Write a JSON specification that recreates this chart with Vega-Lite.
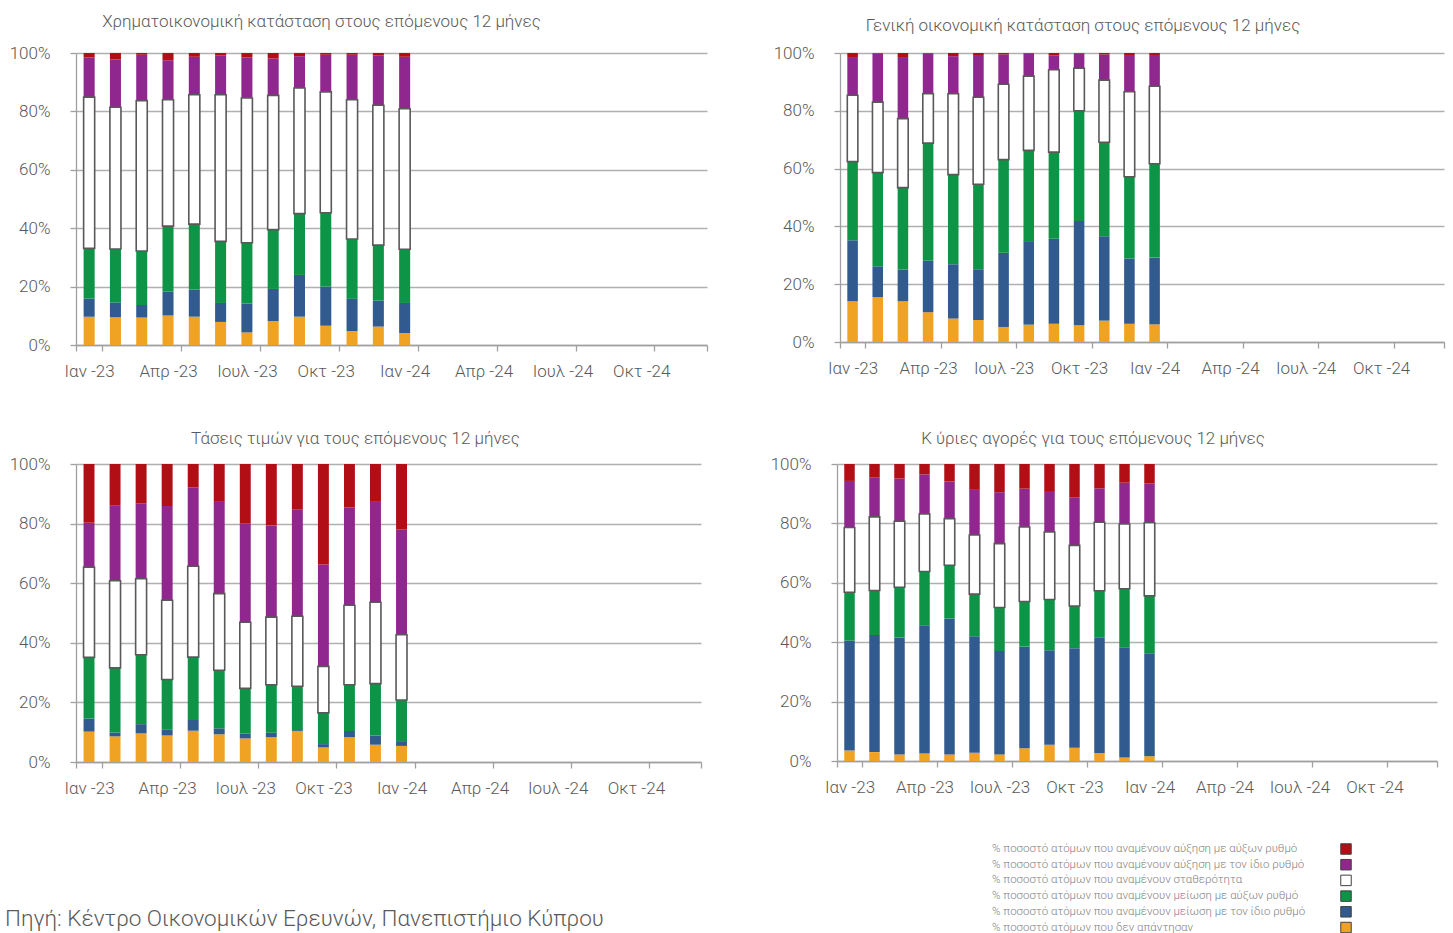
{
  "$schema": "https://vega.github.io/schema/vega-lite/v6.json",
  "padding": {"left": 5, "top": 13, "right": 5, "bottom": 0},
  "background": "white",
  "datasets": {
    "survey": [
      {"panel": "p1", "month": "Ιαν -23", "a_no_answer": 9.7, "b_decrease_same": 6.2, "c_decrease_faster": 17.2, "d_stable": 51.8, "e_increase_same": 13.6, "f_increase_faster": 1.5},
      {"panel": "p1", "month": "Φεβ -23", "a_no_answer": 9.5, "b_decrease_same": 5.1, "c_decrease_faster": 18.3, "d_stable": 48.5, "e_increase_same": 16.4, "f_increase_faster": 2.2},
      {"panel": "p1", "month": "Μαρ -23", "a_no_answer": 9.4, "b_decrease_same": 4.3, "c_decrease_faster": 18.5, "d_stable": 51.5, "e_increase_same": 15.7, "f_increase_faster": 0.6},
      {"panel": "p1", "month": "Απρ -23", "a_no_answer": 10.1, "b_decrease_same": 8.2, "c_decrease_faster": 22.4, "d_stable": 43.3, "e_increase_same": 13.5, "f_increase_faster": 2.5},
      {"panel": "p1", "month": "Μαϊ -23", "a_no_answer": 9.7, "b_decrease_same": 9.3, "c_decrease_faster": 22.4, "d_stable": 44.3, "e_increase_same": 13.0, "f_increase_faster": 1.3},
      {"panel": "p1", "month": "Ιουν -23", "a_no_answer": 7.9, "b_decrease_same": 6.5, "c_decrease_faster": 21.1, "d_stable": 50.2, "e_increase_same": 13.4, "f_increase_faster": 0.9},
      {"panel": "p1", "month": "Ιουλ -23", "a_no_answer": 4.3, "b_decrease_same": 9.9, "c_decrease_faster": 20.8, "d_stable": 49.6, "e_increase_same": 13.9, "f_increase_faster": 1.5},
      {"panel": "p1", "month": "Αυγ -23", "a_no_answer": 8.2, "b_decrease_same": 11.0, "c_decrease_faster": 20.3, "d_stable": 46.0, "e_increase_same": 12.6, "f_increase_faster": 1.9},
      {"panel": "p1", "month": "Σεπ -23", "a_no_answer": 9.7, "b_decrease_same": 14.3, "c_decrease_faster": 21.0, "d_stable": 43.0, "e_increase_same": 10.9, "f_increase_faster": 1.1},
      {"panel": "p1", "month": "Οκτ -23", "a_no_answer": 6.6, "b_decrease_same": 13.4, "c_decrease_faster": 25.3, "d_stable": 41.4, "e_increase_same": 12.7, "f_increase_faster": 0.6},
      {"panel": "p1", "month": "Νοε -23", "a_no_answer": 4.8, "b_decrease_same": 11.0, "c_decrease_faster": 20.5, "d_stable": 47.7, "e_increase_same": 15.4, "f_increase_faster": 0.6},
      {"panel": "p1", "month": "Δεκ -23", "a_no_answer": 6.3, "b_decrease_same": 8.9, "c_decrease_faster": 19.0, "d_stable": 47.9, "e_increase_same": 17.0, "f_increase_faster": 0.9},
      {"panel": "p1", "month": "Ιαν -24", "a_no_answer": 4.1, "b_decrease_same": 10.3, "c_decrease_faster": 18.4, "d_stable": 48.1, "e_increase_same": 17.8, "f_increase_faster": 1.3},

      {"panel": "p2", "month": "Ιαν -23", "a_no_answer": 14.1, "b_decrease_same": 21.1, "c_decrease_faster": 27.2, "d_stable": 23.0, "e_increase_same": 13.2, "f_increase_faster": 1.4},
      {"panel": "p2", "month": "Φεβ -23", "a_no_answer": 15.5, "b_decrease_same": 10.7, "c_decrease_faster": 32.4, "d_stable": 24.4, "e_increase_same": 16.8, "f_increase_faster": 0.2},
      {"panel": "p2", "month": "Μαρ -23", "a_no_answer": 14.1, "b_decrease_same": 11.0, "c_decrease_faster": 28.3, "d_stable": 23.9, "e_increase_same": 21.3, "f_increase_faster": 1.4},
      {"panel": "p2", "month": "Απρ -23", "a_no_answer": 10.3, "b_decrease_same": 17.8, "c_decrease_faster": 40.7, "d_stable": 17.1, "e_increase_same": 13.9, "f_increase_faster": 0.2},
      {"panel": "p2", "month": "Μαϊ -23", "a_no_answer": 8.1, "b_decrease_same": 18.8, "c_decrease_faster": 31.0, "d_stable": 28.0, "e_increase_same": 13.0, "f_increase_faster": 1.1},
      {"panel": "p2", "month": "Ιουν -23", "a_no_answer": 7.6, "b_decrease_same": 17.6, "c_decrease_faster": 29.4, "d_stable": 30.1, "e_increase_same": 14.6, "f_increase_faster": 0.7},
      {"panel": "p2", "month": "Ιουλ -23", "a_no_answer": 5.2, "b_decrease_same": 25.7, "c_decrease_faster": 32.2, "d_stable": 26.1, "e_increase_same": 10.3, "f_increase_faster": 0.5},
      {"panel": "p2", "month": "Αυγ -23", "a_no_answer": 6.0, "b_decrease_same": 28.9, "c_decrease_faster": 31.4, "d_stable": 25.7, "e_increase_same": 7.8, "f_increase_faster": 0.2},
      {"panel": "p2", "month": "Σεπ -23", "a_no_answer": 6.3, "b_decrease_same": 29.4, "c_decrease_faster": 30.0, "d_stable": 28.5, "e_increase_same": 5.0, "f_increase_faster": 0.8},
      {"panel": "p2", "month": "Οκτ -23", "a_no_answer": 5.8, "b_decrease_same": 36.1, "c_decrease_faster": 38.1, "d_stable": 14.7, "e_increase_same": 5.1, "f_increase_faster": 0.2},
      {"panel": "p2", "month": "Νοε -23", "a_no_answer": 7.4, "b_decrease_same": 29.2, "c_decrease_faster": 32.5, "d_stable": 21.5, "e_increase_same": 8.9, "f_increase_faster": 0.5},
      {"panel": "p2", "month": "Δεκ -23", "a_no_answer": 6.3, "b_decrease_same": 22.6, "c_decrease_faster": 28.3, "d_stable": 29.4, "e_increase_same": 12.7, "f_increase_faster": 0.7},
      {"panel": "p2", "month": "Ιαν -24", "a_no_answer": 6.1, "b_decrease_same": 23.1, "c_decrease_faster": 32.5, "d_stable": 26.8, "e_increase_same": 10.8, "f_increase_faster": 0.7},

      {"panel": "p3", "month": "Ιαν -23", "a_no_answer": 10.2, "b_decrease_same": 4.4, "c_decrease_faster": 20.5, "d_stable": 30.3, "e_increase_same": 14.9, "f_increase_faster": 19.7},
      {"panel": "p3", "month": "Φεβ -23", "a_no_answer": 8.6, "b_decrease_same": 1.3, "c_decrease_faster": 21.7, "d_stable": 29.2, "e_increase_same": 25.2, "f_increase_faster": 14.0},
      {"panel": "p3", "month": "Μαρ -23", "a_no_answer": 9.6, "b_decrease_same": 3.1, "c_decrease_faster": 23.3, "d_stable": 25.5, "e_increase_same": 25.2, "f_increase_faster": 13.3},
      {"panel": "p3", "month": "Απρ -23", "a_no_answer": 8.9, "b_decrease_same": 1.9, "c_decrease_faster": 16.9, "d_stable": 26.6, "e_increase_same": 31.6, "f_increase_faster": 14.1},
      {"panel": "p3", "month": "Μαϊ -23", "a_no_answer": 10.5, "b_decrease_same": 3.6, "c_decrease_faster": 21.1, "d_stable": 30.5, "e_increase_same": 26.4, "f_increase_faster": 7.9},
      {"panel": "p3", "month": "Ιουν -23", "a_no_answer": 9.3, "b_decrease_same": 2.0, "c_decrease_faster": 19.5, "d_stable": 25.7, "e_increase_same": 30.8, "f_increase_faster": 12.7},
      {"panel": "p3", "month": "Ιουλ -23", "a_no_answer": 7.9, "b_decrease_same": 1.6, "c_decrease_faster": 15.2, "d_stable": 22.2, "e_increase_same": 33.1, "f_increase_faster": 20.0},
      {"panel": "p3", "month": "Αυγ -23", "a_no_answer": 8.3, "b_decrease_same": 1.5, "c_decrease_faster": 16.1, "d_stable": 22.7, "e_increase_same": 30.8, "f_increase_faster": 20.6},
      {"panel": "p3", "month": "Σεπ -23", "a_no_answer": 10.4, "b_decrease_same": 0.3, "c_decrease_faster": 14.7, "d_stable": 23.5, "e_increase_same": 35.8, "f_increase_faster": 15.3},
      {"panel": "p3", "month": "Οκτ -23", "a_no_answer": 4.9, "b_decrease_same": 1.1, "c_decrease_faster": 10.5, "d_stable": 15.6, "e_increase_same": 34.2, "f_increase_faster": 33.7},
      {"panel": "p3", "month": "Νοε -23", "a_no_answer": 8.3, "b_decrease_same": 2.1, "c_decrease_faster": 15.5, "d_stable": 26.7, "e_increase_same": 32.8, "f_increase_faster": 14.6},
      {"panel": "p3", "month": "Δεκ -23", "a_no_answer": 5.8, "b_decrease_same": 3.1, "c_decrease_faster": 17.4, "d_stable": 27.3, "e_increase_same": 33.7, "f_increase_faster": 12.7},
      {"panel": "p3", "month": "Ιαν -24", "a_no_answer": 5.4, "b_decrease_same": 1.6, "c_decrease_faster": 13.8, "d_stable": 21.9, "e_increase_same": 35.3, "f_increase_faster": 22.0},

      {"panel": "p4", "month": "Ιαν -23", "a_no_answer": 3.5, "b_decrease_same": 37.0, "c_decrease_faster": 16.3, "d_stable": 21.8, "e_increase_same": 15.7, "f_increase_faster": 5.7},
      {"panel": "p4", "month": "Φεβ -23", "a_no_answer": 3.0, "b_decrease_same": 39.4, "c_decrease_faster": 15.0, "d_stable": 24.8, "e_increase_same": 13.2, "f_increase_faster": 4.6},
      {"panel": "p4", "month": "Μαρ -23", "a_no_answer": 2.2, "b_decrease_same": 39.4, "c_decrease_faster": 16.9, "d_stable": 22.2, "e_increase_same": 14.4, "f_increase_faster": 4.9},
      {"panel": "p4", "month": "Απρ -23", "a_no_answer": 2.5, "b_decrease_same": 43.2, "c_decrease_faster": 18.1, "d_stable": 19.4, "e_increase_same": 13.3, "f_increase_faster": 3.5},
      {"panel": "p4", "month": "Μαϊ -23", "a_no_answer": 2.2, "b_decrease_same": 45.8, "c_decrease_faster": 17.9, "d_stable": 15.7, "e_increase_same": 12.5, "f_increase_faster": 5.9},
      {"panel": "p4", "month": "Ιουν -23", "a_no_answer": 2.8, "b_decrease_same": 39.2, "c_decrease_faster": 14.2, "d_stable": 19.9, "e_increase_same": 15.2, "f_increase_faster": 8.7},
      {"panel": "p4", "month": "Ιουλ -23", "a_no_answer": 2.2, "b_decrease_same": 34.8, "c_decrease_faster": 14.7, "d_stable": 21.5, "e_increase_same": 17.3, "f_increase_faster": 9.5},
      {"panel": "p4", "month": "Αυγ -23", "a_no_answer": 4.3, "b_decrease_same": 34.2, "c_decrease_faster": 15.2, "d_stable": 25.1, "e_increase_same": 12.9, "f_increase_faster": 8.3},
      {"panel": "p4", "month": "Σεπ -23", "a_no_answer": 5.5, "b_decrease_same": 31.8, "c_decrease_faster": 17.1, "d_stable": 22.7, "e_increase_same": 13.5, "f_increase_faster": 9.4},
      {"panel": "p4", "month": "Οκτ -23", "a_no_answer": 4.5, "b_decrease_same": 33.5, "c_decrease_faster": 14.2, "d_stable": 20.4, "e_increase_same": 16.2, "f_increase_faster": 11.2},
      {"panel": "p4", "month": "Νοε -23", "a_no_answer": 2.7, "b_decrease_same": 39.0, "c_decrease_faster": 15.6, "d_stable": 23.1, "e_increase_same": 11.4, "f_increase_faster": 8.2},
      {"panel": "p4", "month": "Δεκ -23", "a_no_answer": 1.2, "b_decrease_same": 37.1, "c_decrease_faster": 19.7, "d_stable": 21.8, "e_increase_same": 13.9, "f_increase_faster": 6.3},
      {"panel": "p4", "month": "Ιαν -24", "a_no_answer": 1.6, "b_decrease_same": 34.7, "c_decrease_faster": 19.3, "d_stable": 24.6, "e_increase_same": 13.2, "f_increase_faster": 6.6}
    ]
  },
  "data": {"name": "survey"},
  "spacing": 51,
  "vconcat": [
    {
      "spacing": 61,
      "hconcat": [
        {
          "width": 631, "height": 292,
          "title": {"text": "Χρηματοικονομική κατάσταση στους επόμενους 12 μήνες", "dx": -70, "offset": 13},
          "transform": [{"filter": "datum.panel === 'p1'"}, {"fold": ["a_no_answer", "b_decrease_same", "c_decrease_faster", "d_stable", "e_increase_same", "f_increase_faster"], "as": ["cat", "value"]}],
          "encoding": {
            "x": {"field": "month", "type": "ordinal", "scale": {"domain": ["Ιαν -23","Φεβ -23","Μαρ -23","Απρ -23","Μαϊ -23","Ιουν -23","Ιουλ -23","Αυγ -23","Σεπ -23","Οκτ -23","Νοε -23","Δεκ -23","Ιαν -24","Φεβ -24","Μαρ -24","Απρ -24","Μαϊ -24","Ιουν -24","Ιουλ -24","Αυγ -24","Σεπ -24","Οκτ -24","Νοε -24","Δεκ -24"], "paddingInner": 0, "paddingOuter": 0},
              "axis": {"title": null, "values": ["Ιαν -23","Απρ -23","Ιουλ -23","Οκτ -23","Ιαν -24","Απρ -24","Ιουλ -24","Οκτ -24","Δεκ -24"], "labelExpr": "datum.value === 'Δεκ -24' ? '' : datum.value", "tickBand": "extent", "labelAngle": 0}},
            "y": {"field": "value", "type": "quantitative", "stack": "normalize", "scale": {"domain": [0, 1]}, "axis": {"title": null, "values": [0, 0.2, 0.4, 0.6, 0.8, 1], "format": ".0%"}},
            "order": {"field": "cat", "sort": "ascending"}
          },
          "layer": [
            {
              "mark": {"type": "bar", "width": {"band": 0.42}},
              "encoding": {
                "color": {"field": "cat", "type": "nominal", "scale": {"domain": ["f_increase_faster", "e_increase_same", "d_stable", "c_decrease_faster", "b_decrease_same", "a_no_answer"], "range": ["#B10F15", "#8F278E", "#FFFFFF", "#0D9446", "#315B8F", "#F0A323"]},
                  "legend": {"orient": "none", "legendX": 1264, "legendY": 790, "title": null, "symbolType": "square", "symbolSize": 110, "symbolStrokeColor": "#404040", "symbolStrokeWidth": 1, "labelFontSize": 11.5, "labelColor": "#7f7f7f", "labelOffset": -360, "rowPadding": -0.3, "labelLimit": 500,
                    "labelExpr": "({'f_increase_faster': '% ποσοστό ατόμων που αναμένουν αύξηση με αύξων ρυθμό', 'e_increase_same': '% ποσοστό ατόμων που αναμένουν αύξηση με τον ίδιο ρυθμό', 'd_stable': '% ποσοστό ατόμων που αναμένουν σταθερότητα', 'c_decrease_faster': '% ποσοστό ατόμων που αναμένουν μείωση με αύξων ρυθμό', 'b_decrease_same': '% ποσοστό ατόμων που αναμένουν μείωση με τον ίδιο ρυθμό', 'a_no_answer': '% ποσοστό ατόμων που δεν απάντησαν'})[datum.value]"}}
              }
            },
            {
              "mark": {"type": "bar", "width": {"band": 0.42}, "fill": "transparent", "strokeWidth": 1.6},
              "encoding": {
                "detail": {"field": "cat"},
                "stroke": {"condition": {"test": "datum.cat === 'd_stable'", "value": "#595959"}, "value": "transparent"}
              }
            }
          ]
        },
        {
          "width": 604, "height": 289,
          "title": {"text": "Γενική οικονομική κατάσταση στους επόμενους 12 μήνες", "dx": -59, "offset": 9},
          "transform": [{"filter": "datum.panel === 'p2'"}, {"fold": ["a_no_answer", "b_decrease_same", "c_decrease_faster", "d_stable", "e_increase_same", "f_increase_faster"], "as": ["cat", "value"]}],
          "encoding": {
            "x": {"field": "month", "type": "ordinal", "scale": {"domain": ["Ιαν -23","Φεβ -23","Μαρ -23","Απρ -23","Μαϊ -23","Ιουν -23","Ιουλ -23","Αυγ -23","Σεπ -23","Οκτ -23","Νοε -23","Δεκ -23","Ιαν -24","Φεβ -24","Μαρ -24","Απρ -24","Μαϊ -24","Ιουν -24","Ιουλ -24","Αυγ -24","Σεπ -24","Οκτ -24","Νοε -24","Δεκ -24"], "paddingInner": 0, "paddingOuter": 0},
              "axis": {"title": null, "values": ["Ιαν -23","Απρ -23","Ιουλ -23","Οκτ -23","Ιαν -24","Απρ -24","Ιουλ -24","Οκτ -24","Δεκ -24"], "labelExpr": "datum.value === 'Δεκ -24' ? '' : datum.value", "tickBand": "extent", "labelAngle": 0}},
            "y": {"field": "value", "type": "quantitative", "stack": "normalize", "scale": {"domain": [0, 1]}, "axis": {"title": null, "values": [0, 0.2, 0.4, 0.6, 0.8, 1], "format": ".0%"}},
            "order": {"field": "cat", "sort": "ascending"}
          },
          "layer": [
            {"mark": {"type": "bar", "width": {"band": 0.42}}, "encoding": {"color": {"field": "cat", "type": "nominal"}}},
            {"mark": {"type": "bar", "width": {"band": 0.42}, "fill": "transparent", "strokeWidth": 1.6}, "encoding": {"detail": {"field": "cat"}, "stroke": {"condition": {"test": "datum.cat === 'd_stable'", "value": "#595959"}, "value": "transparent"}}}
          ]
        }
      ]
    },
    {
      "spacing": 64,
      "title": {"text": "Πηγή: Κέντρο Οικονομικών Ερευνών, Πανεπιστήμιο Κύπρου", "orient": "bottom", "anchor": "start", "fontSize": 22.5, "fontWeight": 300, "color": "#595959", "offset": 112},
      "hconcat": [
        {
          "width": 625, "height": 298,
          "title": {"text": "Τάσεις τιμών για τους επόμενους 12 μήνες", "dx": -33, "offset": 7},
          "transform": [{"filter": "datum.panel === 'p3'"}, {"fold": ["a_no_answer", "b_decrease_same", "c_decrease_faster", "d_stable", "e_increase_same", "f_increase_faster"], "as": ["cat", "value"]}],
          "encoding": {
            "x": {"field": "month", "type": "ordinal", "scale": {"domain": ["Ιαν -23","Φεβ -23","Μαρ -23","Απρ -23","Μαϊ -23","Ιουν -23","Ιουλ -23","Αυγ -23","Σεπ -23","Οκτ -23","Νοε -23","Δεκ -23","Ιαν -24","Φεβ -24","Μαρ -24","Απρ -24","Μαϊ -24","Ιουν -24","Ιουλ -24","Αυγ -24","Σεπ -24","Οκτ -24","Νοε -24","Δεκ -24"], "paddingInner": 0, "paddingOuter": 0},
              "axis": {"title": null, "values": ["Ιαν -23","Απρ -23","Ιουλ -23","Οκτ -23","Ιαν -24","Απρ -24","Ιουλ -24","Οκτ -24","Δεκ -24"], "labelExpr": "datum.value === 'Δεκ -24' ? '' : datum.value", "tickBand": "extent", "labelAngle": 0}},
            "y": {"field": "value", "type": "quantitative", "stack": "normalize", "scale": {"domain": [0, 1]}, "axis": {"title": null, "values": [0, 0.2, 0.4, 0.6, 0.8, 1], "format": ".0%"}},
            "order": {"field": "cat", "sort": "ascending"}
          },
          "layer": [
            {"mark": {"type": "bar", "width": {"band": 0.42}}, "encoding": {"color": {"field": "cat", "type": "nominal"}}},
            {"mark": {"type": "bar", "width": {"band": 0.42}, "fill": "transparent", "strokeWidth": 1.6}, "encoding": {"detail": {"field": "cat"}, "stroke": {"condition": {"test": "datum.cat === 'd_stable'", "value": "#595959"}, "value": "transparent"}}}
          ]
        },
        {
          "width": 600, "height": 297,
          "title": {"text": "Κ ύριες αγορές για τους επόμενους 12 μήνες", "dx": -44, "offset": 7},
          "transform": [{"filter": "datum.panel === 'p4'"}, {"fold": ["a_no_answer", "b_decrease_same", "c_decrease_faster", "d_stable", "e_increase_same", "f_increase_faster"], "as": ["cat", "value"]}],
          "encoding": {
            "x": {"field": "month", "type": "ordinal", "scale": {"domain": ["Ιαν -23","Φεβ -23","Μαρ -23","Απρ -23","Μαϊ -23","Ιουν -23","Ιουλ -23","Αυγ -23","Σεπ -23","Οκτ -23","Νοε -23","Δεκ -23","Ιαν -24","Φεβ -24","Μαρ -24","Απρ -24","Μαϊ -24","Ιουν -24","Ιουλ -24","Αυγ -24","Σεπ -24","Οκτ -24","Νοε -24","Δεκ -24"], "paddingInner": 0, "paddingOuter": 0},
              "axis": {"title": null, "values": ["Ιαν -23","Απρ -23","Ιουλ -23","Οκτ -23","Ιαν -24","Απρ -24","Ιουλ -24","Οκτ -24","Δεκ -24"], "labelExpr": "datum.value === 'Δεκ -24' ? '' : datum.value", "tickBand": "extent", "labelAngle": 0}},
            "y": {"field": "value", "type": "quantitative", "stack": "normalize", "scale": {"domain": [0, 1]}, "axis": {"title": null, "values": [0, 0.2, 0.4, 0.6, 0.8, 1], "format": ".0%"}},
            "order": {"field": "cat", "sort": "ascending"}
          },
          "layer": [
            {"mark": {"type": "bar", "width": {"band": 0.42}}, "encoding": {"color": {"field": "cat", "type": "nominal"}}},
            {"mark": {"type": "bar", "width": {"band": 0.42}, "fill": "transparent", "strokeWidth": 1.6}, "encoding": {"detail": {"field": "cat"}, "stroke": {"condition": {"test": "datum.cat === 'd_stable'", "value": "#595959"}, "value": "transparent"}}}
          ]
        }
      ]
    }
  ],
  "config": {
    "font": "Roboto",
    "view": {"stroke": null},
    "title": {"fontSize": 17, "fontWeight": 300, "color": "#595959", "font": "Roboto"},
    "axis": {"labelFont": "Roboto", "labelFontWeight": 300, "labelFontSize": 17, "labelColor": "#595959", "domainColor": "#A0A0A0", "tickColor": "#A0A0A0", "gridColor": "#B0B0B0", "domainWidth": 1.3, "tickWidth": 1.3, "gridWidth": 1.3},
    "axisX": {"tickSize": 6, "labelPadding": 12, "grid": false},
    "axisY": {"tickSize": 6, "labelPadding": 20, "grid": true, "minExtent": 71},
    "legend": {"labelFont": "Roboto", "labelFontWeight": 300}
  }
}
